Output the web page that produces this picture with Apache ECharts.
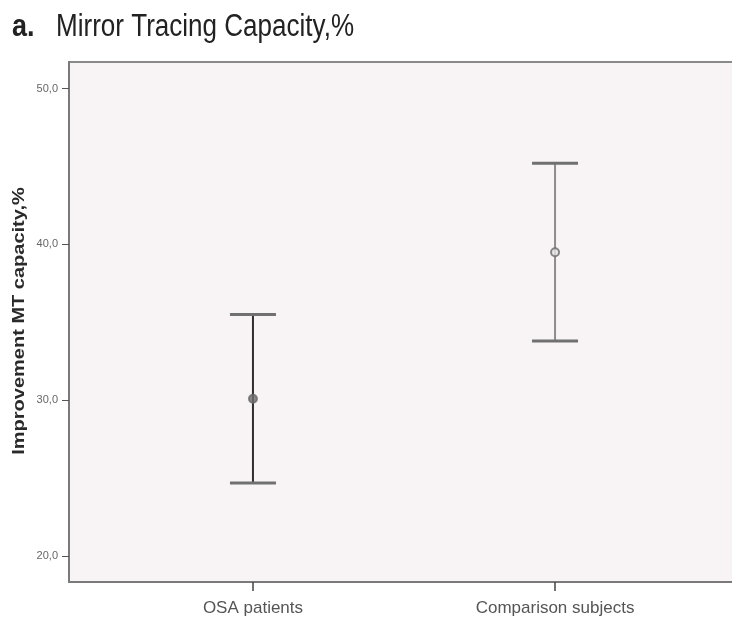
<!DOCTYPE html>
<html>
<head>
<meta charset="utf-8">
<script src="https://cdn.jsdelivr.net/npm/echarts@6/dist/echarts.min.js"></script>
<style>
html,body{margin:0;padding:0;background:#fff;overflow:hidden;}
#chart{width:732px;height:621px;}
</style>
</head>
<body>
<div id="chart"></div>
<script>
const categories = ['OSA patients', 'Comparison subjects'];
const means = [30.1, 39.5];
const lower = [24.7, 33.8];
const upper = [35.5, 45.2];
const yTicks = [20, 30, 40, 50];
const titleLetter = 'a.';
const titleText = 'Mirror Tracing Capacity,%';
const yAxisName = 'Improvement MT capacity,%';

const stemColors = ['#2e2e2e', '#8c8c8c'];
const markerFill = ['#6e6e6e', '#e8e4e5'];
const FONT = "'Liberation Sans', Arial, sans-serif";

const chart = echarts.init(document.getElementById('chart'), null, {renderer: 'canvas'});

const errData = categories.map((c, i) => [i + 1, lower[i], upper[i]]);
const meanData = categories.map((c, i) => ({
  value: [i + 1, means[i]],
  itemStyle: {color: markerFill[i], borderColor: '#6a6a6a', borderWidth: 2}
}));

chart.setOption({
  animation: false,
  backgroundColor: '#ffffff',
  graphic: [
    {
      type: 'text', x: 12, y: 27, scaleX: 0.87, z: 10,
      style: {text: titleLetter, fontFamily: FONT, fontWeight: 'bold', fontSize: 31, fill: '#222', align: 'left', verticalAlign: 'middle'}
    },
    {
      type: 'text', x: 56, y: 27, scaleX: 0.84, z: 10,
      style: {text: titleText, fontFamily: FONT, fontWeight: 'normal', fontSize: 31, fill: '#222', align: 'left', verticalAlign: 'middle'}
    },
    {
      type: 'text', x: 20, y: 321, rotation: Math.PI / 2, scaleX: 1.25, z: 10,
      style: {text: yAxisName, fontFamily: FONT, fontWeight: 'bold', fontSize: 16, fill: '#2a2a2a', align: 'center', verticalAlign: 'middle'}
    }
  ],
  grid: {
    left: 69, top: 62, width: 670, height: 520,
    outerBoundsMode: 'none',
    containLabel: false,
    show: true, backgroundColor: '#f8f4f5', borderColor: '#8a8a8a', borderWidth: 2
  },
  xAxis: {
    type: 'value',
    min: 0.391, max: 2.609,
    splitLine: {show: false},
    axisLine: {show: true, lineStyle: {color: '#7a7a7a', width: 2}},
    axisTick: {show: true, customValues: categories.map((c, i) => i + 1), length: 9, lineStyle: {color: '#444', width: 1.5}},
    axisLabel: {
      show: true, customValues: categories.map((c, i) => i + 1),
      formatter: v => categories[Math.round(v) - 1] || '',
      fontFamily: FONT, fontSize: 17, color: '#555', margin: 18
    }
  },
  yAxis: {
    type: 'value',
    min: 18.35, max: 51.7,
    splitLine: {show: false},
    axisLine: {show: true, lineStyle: {color: '#7a7a7a', width: 2}},
    axisTick: {show: true, customValues: yTicks, length: 7, lineStyle: {color: '#555', width: 1}},
    axisLabel: {
      show: true, customValues: yTicks,
      formatter: v => v.toFixed(1).replace('.', ','),
      fontFamily: FONT, fontSize: 11, color: '#666', margin: 11
    }
  },
  series: [
    {
      type: 'custom',
      data: errData,
      encode: {x: 0, y: [1, 2]},
      renderItem: function (params, api) {
        const idx = params.dataIndex;
        const x = api.value(0);
        const pLo = api.coord([x, api.value(1)]);
        const pHi = api.coord([x, api.value(2)]);
        const hw = 23;
        return {
          type: 'group',
          children: [
            {type: 'line', shape: {x1: pHi[0], y1: pHi[1], x2: pLo[0], y2: pLo[1]}, style: {stroke: stemColors[idx], lineWidth: 2}},
            {type: 'line', shape: {x1: pHi[0] - hw, y1: pHi[1], x2: pHi[0] + hw, y2: pHi[1]}, style: {stroke: '#707070', lineWidth: 3}},
            {type: 'line', shape: {x1: pLo[0] - hw, y1: pLo[1], x2: pLo[0] + hw, y2: pLo[1]}, style: {stroke: '#707070', lineWidth: 3}}
          ]
        };
      },
      z: 2
    },
    {
      type: 'scatter',
      data: meanData,
      symbol: 'circle',
      symbolSize: 8,
      z: 3
    }
  ]
});
</script>
</body>
</html>
